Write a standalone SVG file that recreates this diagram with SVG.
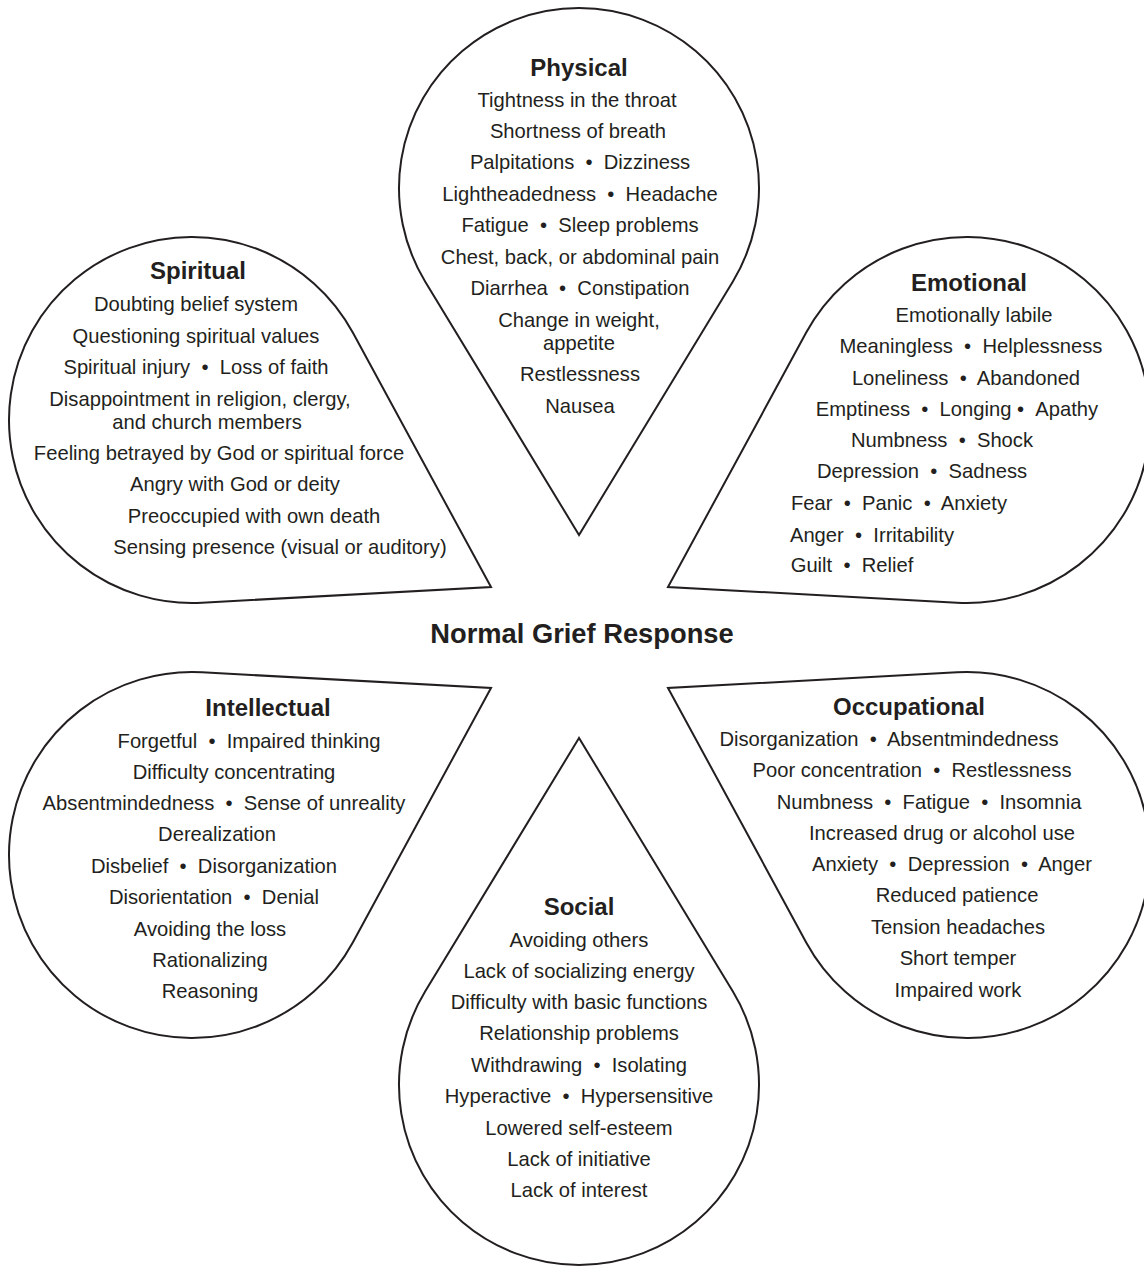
<svg xmlns="http://www.w3.org/2000/svg" width="1144" height="1267" viewBox="0 0 1144 1267">
<style>
.petal{fill:#ffffff;stroke:#231f20;stroke-width:2;stroke-linejoin:miter}
text{font-family:"Liberation Sans",Arial,sans-serif;fill:#231f20;text-anchor:middle}
.t{font-size:24px;font-weight:bold}
.i{font-size:20.2px}
.c{font-size:27.3px;font-weight:bold}
</style>
<rect width="1144" height="1267" fill="#ffffff"/>
<g id="connectors"></g>
<g id="physical">
<path class="petal" d="M579,535 L425.1,281.4 A180,180 0 1 1 732.9,281.4 Z"/>
<text class="t" x="579" y="76">Physical</text>
<text class="i" x="577" y="107">Tightness in the throat</text>
<text class="i" x="578" y="138">Shortness of breath</text>
<text class="i" x="580" y="169">Palpitations &#160;•&#160; Dizziness</text>
<text class="i" x="580" y="201">Lightheadedness &#160;•&#160; Headache</text>
<text class="i" x="580" y="232">Fatigue &#160;•&#160; Sleep problems</text>
<text class="i" x="580" y="264">Chest, back, or abdominal pain</text>
<text class="i" x="580" y="295">Diarrhea &#160;•&#160; Constipation</text>
<text class="i" x="579" y="327">Change in weight,</text>
<text class="i" x="579" y="350">appetite</text>
<text class="i" x="580" y="381">Restlessness</text>
<text class="i" x="580" y="413">Nausea</text>
</g>
<g id="spiritual">
<path class="petal" d="M491,587 L352.8,332.6 A183,183 0 1 0 202,602.7 Z"/>
<text class="t" x="198" y="279">Spiritual</text>
<text class="i" x="196" y="311">Doubting belief system</text>
<text class="i" x="196" y="343">Questioning spiritual values</text>
<text class="i" x="196" y="374">Spiritual injury &#160;•&#160; Loss of faith</text>
<text class="i" x="200" y="406">Disappointment in religion, clergy,</text>
<text class="i" x="207" y="429">and church members</text>
<text class="i" x="219" y="460">Feeling betrayed by God or spiritual force</text>
<text class="i" x="235" y="491">Angry with God or deity</text>
<text class="i" x="254" y="523">Preoccupied with own death</text>
<text class="i" x="280" y="554">Sensing presence (visual or auditory)</text>
</g>
<g id="emotional">
<path class="petal" d="M668,587 L806.2,332.6 A183,183 0 1 1 957,602.7 Z"/>
<text class="t" x="969" y="291">Emotional</text>
<text class="i" x="974" y="322">Emotionally labile</text>
<text class="i" x="971" y="353">Meaningless &#160;•&#160; Helplessness</text>
<text class="i" x="966" y="385">Loneliness &#160;•&#160; Abandoned</text>
<text class="i" x="957" y="416">Emptiness &#160;•&#160; Longing • &#160;Apathy</text>
<text class="i" x="942" y="447">Numbness &#160;•&#160; Shock</text>
<text class="i" x="922" y="478">Depression &#160;•&#160; Sadness</text>
<text class="i" x="899" y="510">Fear &#160;•&#160; Panic &#160;•&#160; Anxiety</text>
<text class="i" x="872" y="542">Anger &#160;•&#160; Irritability</text>
<text class="i" x="852" y="572">Guilt &#160;•&#160; Relief</text>
</g>
<g id="center">
<text class="c" x="582" y="643">Normal Grief Response</text>
</g>
<g id="intellectual">
<path class="petal" d="M491,688 L352.8,942.4 A183,183 0 1 1 202,672.3 Z"/>
<text class="t" x="268" y="716">Intellectual</text>
<text class="i" x="249" y="748">Forgetful &#160;•&#160; Impaired thinking</text>
<text class="i" x="234" y="779">Difficulty concentrating</text>
<text class="i" x="224" y="810">Absentmindedness &#160;•&#160; Sense of unreality</text>
<text class="i" x="217" y="841">Derealization</text>
<text class="i" x="214" y="873">Disbelief &#160;•&#160; Disorganization</text>
<text class="i" x="214" y="904">Disorientation &#160;•&#160; Denial</text>
<text class="i" x="210" y="936">Avoiding the loss</text>
<text class="i" x="210" y="967">Rationalizing</text>
<text class="i" x="210" y="998">Reasoning</text>
</g>
<g id="occupational">
<path class="petal" d="M668,688 L806.2,942.4 A183,183 0 1 0 957,672.3 Z"/>
<text class="t" x="909" y="715">Occupational</text>
<text class="i" x="889" y="746">Disorganization &#160;•&#160; Absentmindedness</text>
<text class="i" x="912" y="777">Poor concentration &#160;•&#160; Restlessness</text>
<text class="i" x="929" y="809">Numbness &#160;•&#160; Fatigue &#160;•&#160; Insomnia</text>
<text class="i" x="942" y="840">Increased drug or alcohol use</text>
<text class="i" x="952" y="871">Anxiety &#160;•&#160; Depression &#160;•&#160; Anger</text>
<text class="i" x="957" y="902">Reduced patience</text>
<text class="i" x="958" y="934">Tension headaches</text>
<text class="i" x="958" y="965">Short temper</text>
<text class="i" x="958" y="997">Impaired work</text>
</g>
<g id="social">
<path class="petal" d="M579,738 L425.1,991.6 A180,180 0 1 0 732.9,991.6 Z"/>
<text class="t" x="579" y="915">Social</text>
<text class="i" x="579" y="947">Avoiding others</text>
<text class="i" x="579" y="978">Lack of socializing energy</text>
<text class="i" x="579" y="1009">Difficulty with basic functions</text>
<text class="i" x="579" y="1040">Relationship problems</text>
<text class="i" x="579" y="1072">Withdrawing &#160;•&#160; Isolating</text>
<text class="i" x="579" y="1103">Hyperactive &#160;•&#160; Hypersensitive</text>
<text class="i" x="579" y="1135">Lowered self-esteem</text>
<text class="i" x="579" y="1166">Lack of initiative</text>
<text class="i" x="579" y="1197">Lack of interest</text>
</g>
</svg>
